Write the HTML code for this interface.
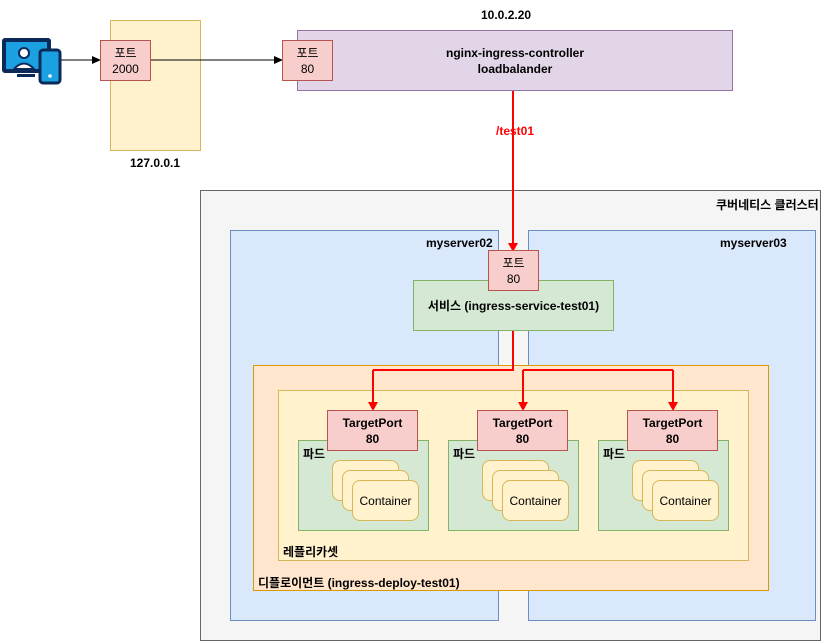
<!DOCTYPE html>
<html><head><meta charset="utf-8"><style>
body{margin:0;width:821px;height:641px;background:#fff;position:relative;overflow:hidden;font-family:"Liberation Sans","Noto Sans CJK KR",sans-serif;font-size:12px;color:#000}
.b{position:absolute;box-sizing:border-box}
.c{display:flex;align-items:center;justify-content:center;text-align:center;line-height:16px}
.red{background:#f8cecc;border:1px solid #b85450}
.t{position:absolute;font-weight:bold;font-size:12px;white-space:nowrap}
.ct{background:#fff2cc;border:1px solid #d6b656;border-radius:8px}
</style></head><body>
<div class="b" style="left:110px;top:20px;width:91px;height:131px;background:#fff2cc;border:1px solid #d6b656"></div>
<div class="t" style="left:130px;top:156px">127.0.0.1</div>
<div class="b" style="left:297px;top:30px;width:436px;height:61px;background:#e1d5e7;border:1px solid #9673a6"></div>
<div class="b c" style="left:297px;top:30px;width:436px;height:61px;font-weight:bold">nginx-ingress-controller<br>loadbalander</div>
<div class="t" style="left:481px;top:8px">10.0.2.20</div>
<div class="b" style="left:200px;top:190px;width:621px;height:451px;background:#f5f5f5;border:1px solid #666"></div>
<div class="t" style="left:716px;top:196px">쿠버네티스 클러스터</div>
<div class="b" style="left:230px;top:230px;width:269px;height:391px;background:#dae8fc;border:1px solid #6c8ebf"></div>
<div class="t" style="left:426px;top:236px">myserver02</div>
<div class="b" style="left:528px;top:230px;width:288px;height:391px;background:#dae8fc;border:1px solid #6c8ebf"></div>
<div class="t" style="left:720px;top:236px">myserver03</div>
<div class="b c" style="left:413px;top:280px;width:201px;height:51px;background:#d5e8d4;border:1px solid #82b366;font-weight:bold">서비스 (ingress-service-test01)</div>
<div class="b" style="left:253px;top:365px;width:516px;height:226px;background:#ffe6cc;border:1px solid #d79b00"></div>
<div class="t" style="left:258px;top:574px">디플로이먼트 (ingress-deploy-test01)</div>
<div class="b" style="left:278px;top:390px;width:471px;height:171px;background:#fff2cc;border:1px solid #d6b656"></div>
<div class="t" style="left:283px;top:543px">레플리카셋</div>
<div id="pods"></div>
<svg class="b" style="left:0;top:0" width="821" height="641">
<g fill="none" stroke-width="2"><line x1="513" y1="91" x2="513" y2="244" stroke="#f00"/><path d="M513 331V370H373M523 370H673M373 370V404M523 370V404M673 370V404" stroke="#f00"/></g>
<g fill="#f00"><path d="M508 243L513 252L518 243Z"/><path d="M368 402L373 411L378 402Z"/><path d="M518 402L523 411L528 402Z"/><path d="M668 402L673 411L678 402Z"/></g>
<line x1="60" y1="60" x2="94" y2="60" stroke="#000"/><path d="M92 56L101 60L92 64Z"/>
<line x1="150" y1="60" x2="276" y2="60" stroke="#000"/><path d="M274 56L283 60L274 64Z"/>
<text x="515" y="135" fill="#f00" font-weight="bold" font-size="12" text-anchor="middle" font-family="Liberation Sans">/test01</text>
<rect x="2" y="38" width="49" height="35" rx="3" fill="#0b2a5a"/><rect x="6" y="42" width="41" height="27" fill="#1ba1e2"/><rect x="17" y="74" width="18" height="3" fill="#0b2a5a"/>
<circle cx="24" cy="53" r="5" fill="#fff" stroke="#0b2a5a" stroke-width="2"/><path d="M14 69Q24 58 34 69Z" fill="#fff" stroke="#0b2a5a" stroke-width="2"/>
<rect x="40" y="50" width="20" height="33" rx="3" fill="#1ba1e2" stroke="#0b2a5a" stroke-width="3"/><circle cx="50" cy="76" r="1.8" fill="#fff"/>
</svg>
<div class="b c red" style="left:100px;top:40px;width:51px;height:41px">포트<br>2000</div>
<div class="b c red" style="left:282px;top:40px;width:51px;height:41px">포트<br>80</div>
<div class="b c red" style="left:488px;top:250px;width:51px;height:41px">포트<br>80</div>

<div class="b" style="left:298px;top:440px;width:131px;height:91px;background:#d5e8d4;border:1px solid #82b366"></div>
<div class="t" style="left:303px;top:445px">파드</div>
<div class="b ct" style="left:332px;top:460px;width:67px;height:41px"></div>
<div class="b ct" style="left:342px;top:470px;width:67px;height:41px"></div>
<div class="b ct c" style="left:352px;top:480px;width:67px;height:41px">Container</div>
<div class="b c red" style="left:327px;top:410px;width:91px;height:41px;font-weight:bold">TargetPort<br>80</div>

<div class="b" style="left:448px;top:440px;width:131px;height:91px;background:#d5e8d4;border:1px solid #82b366"></div>
<div class="t" style="left:453px;top:445px">파드</div>
<div class="b ct" style="left:482px;top:460px;width:67px;height:41px"></div>
<div class="b ct" style="left:492px;top:470px;width:67px;height:41px"></div>
<div class="b ct c" style="left:502px;top:480px;width:67px;height:41px">Container</div>
<div class="b c red" style="left:477px;top:410px;width:91px;height:41px;font-weight:bold">TargetPort<br>80</div>

<div class="b" style="left:598px;top:440px;width:131px;height:91px;background:#d5e8d4;border:1px solid #82b366"></div>
<div class="t" style="left:603px;top:445px">파드</div>
<div class="b ct" style="left:632px;top:460px;width:67px;height:41px"></div>
<div class="b ct" style="left:642px;top:470px;width:67px;height:41px"></div>
<div class="b ct c" style="left:652px;top:480px;width:67px;height:41px">Container</div>
<div class="b c red" style="left:627px;top:410px;width:91px;height:41px;font-weight:bold">TargetPort<br>80</div>
</body></html>
